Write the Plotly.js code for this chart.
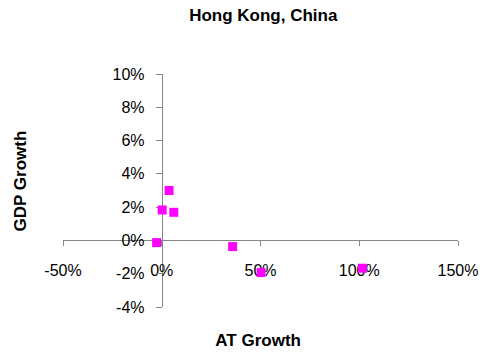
<!DOCTYPE html>
<html>
<head>
<meta charset="utf-8">
<script src="https://cdn.plot.ly/plotly-3.0.1.min.js"></script>
<style>html,body{margin:0;padding:0;background:#fff;}#chart{width:482px;height:353px;}</style>
</head>
<body>
<div id="chart"></div>
<script>
var chartTitle = "Hong Kong, China";
var xTitle = "AT Growth";
var yTitle = "GDP Growth";
var atGrowth = [0.037, 0.002, 0.061, -0.026, 0.359, 0.503, 1.016];
var gdpGrowth = [0.030, 0.0183, 0.0169, -0.0013, -0.0037, -0.0193, -0.0167];
var xTickVals = [-0.5, 0, 0.5, 1, 1.5];
var xTickText = ["-50%", "0%", "50%", "100%", "150%"];
var yTickVals = [-0.04, -0.02, 0, 0.02, 0.04, 0.06, 0.08, 0.10];
var yTickText = ["-4%", "-2%", "0%", "2%", "4%", "6%", "8%", "10%"];

var font = "Liberation Sans, Arial, sans-serif";
var trace = {
  x: atGrowth, y: gdpGrowth, type: "scatter", mode: "markers",
  marker: {symbol: "square", size: 9, color: "#FF00FF"},
  cliponaxis: false, hoverinfo: "none"
};
var layout = {
  width: 482, height: 353,
  margin: {l: 63, r: 24, t: 74, b: 46, pad: 0},
  paper_bgcolor: "#fff", plot_bgcolor: "#fff",
  showlegend: false,
  font: {family: font, size: 16, color: "#000"},
  title: {text: "<b>" + chartTitle + "</b>", font: {family: font, size: 17, color: "#000"},
          xref: "paper", x: 0.507, xanchor: "center", yref: "container", y: 0.9575, yanchor: "middle"},
  xaxis: {
    range: [-0.5, 1.5], anchor: "free", position: 4/14,
    tickvals: xTickVals, ticktext: xTickText,
    showgrid: false, zeroline: false, showline: true, linecolor: "#868686", linewidth: 1,
    ticks: "outside", ticklen: 5, tickcolor: "#868686", tickwidth: 1,
    ticklabelstandoff: 10, layer: "below traces",
    tickfont: {family: font, size: 16, color: "#000"},
    title: {text: "<b>" + xTitle + "\u00a0</b>", font: {family: font, size: 17, color: "#000"}, standoff: 56}
  },
  yaxis: {
    range: [-0.04, 0.10], anchor: "free", position: 0.25,
    tickvals: yTickVals, ticktext: yTickText,
    showgrid: false, zeroline: false, showline: true, linecolor: "#868686", linewidth: 1,
    ticks: "outside", ticklen: 6, tickcolor: "#868686", tickwidth: 1,
    ticklabelstandoff: 8, layer: "below traces",
    tickfont: {family: font, size: 16, color: "#000"},
    title: {text: "<b>\u00a0\u00a0\u00a0\u00a0" + yTitle + "</b>", font: {family: font, size: 17, color: "#000"}, standoff: 80}
  }
};
Plotly.newPlot("chart", [trace], layout, {staticPlot: true, displayModeBar: false});
</script>
</body>
</html>
